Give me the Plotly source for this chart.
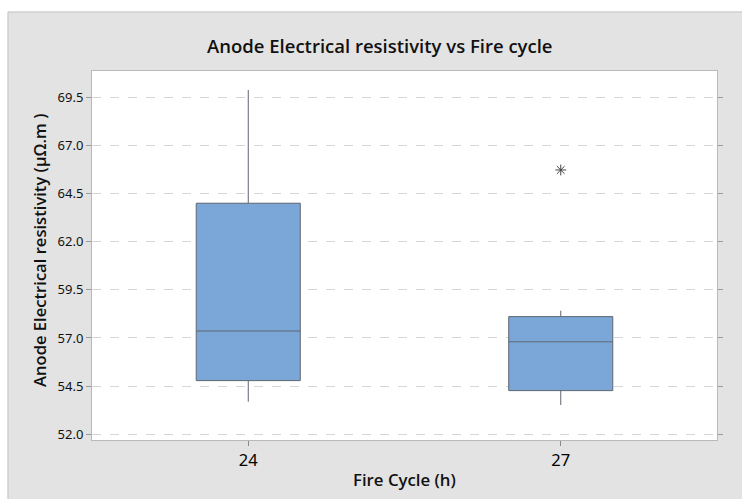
import plotly.graph_objects as go

categories = ["24", "27"]
q1 = [54.78, 54.26]
median = [57.36, 56.80]
q3 = [64.01, 58.11]
lower_whisker = [53.68, 53.51]
upper_whisker = [69.90, 58.42]
outlier_cat = ["27"]
outlier_val = [65.74]
y_ticks = [52.0, 54.5, 57.0, 59.5, 62.0, 64.5, 67.0, 69.5]

FONT = "Noto Sans"
TFONT = "Open Sans"
W, H = 742, 499
L, R, T, B = 92, 25, 71, 59
pw, ph = W - L - R, H - T - B

def px_x(p):
    return (p - L) / pw

def px_y(p):
    return (H - B - p) / ph

fig = go.Figure()
fig.add_trace(go.Box(
    x=categories, q1=q1, median=median, q3=q3,
    lowerfence=lower_whisker, upperfence=upper_whisker,
    fillcolor="#7BA7D8", line=dict(color="#5f6670", width=1),
    whiskerwidth=0, boxpoints=False, showlegend=False,
))
fig.add_trace(go.Scatter(
    x=outlier_cat, y=outlier_val, mode="markers",
    marker=dict(symbol="asterisk-open", size=9, color="#444444",
                line=dict(color="#444444", width=1)),
    showlegend=False,
))

fig.update_layout(
    width=W, height=H,
    margin=dict(l=L, r=R, t=T, b=B),
    paper_bgcolor="#e3e3e3", plot_bgcolor="white",
    boxgap=0.667, boxgroupgap=0,
    font=dict(family=FONT, color="#1a1a1a"),
    xaxis=dict(
        type="category", range=[-0.5, 1.5],
        showline=True, mirror=True, linecolor="#b9b9b9", linewidth=1,
        ticks="outside", ticklen=5, tickcolor="#8a8a8a",
        tickfont=dict(size=16.5, color="#000000", family=FONT),
        showgrid=False, zeroline=False,
    ),
    yaxis=dict(
        range=[51.69, 70.89],
        tickvals=y_ticks, ticktext=[f"{v:.1f}" for v in y_ticks],
        showline=True, mirror="ticks", linecolor="#b9b9b9", linewidth=1,
        ticks="outside", ticklen=5, tickcolor="#9a9a9a",
        tickfont=dict(size=13, color="#111111", family=FONT),
        showgrid=True, gridcolor="#d6d6d6", griddash="dash", gridwidth=1,
        zeroline=False,
    ),
    shapes=[
        dict(type="rect", xref="paper", yref="paper",
             x0=px_x(-5), x1=px_x(7.5), y0=px_y(H + 5), y1=px_y(-5),
             fillcolor="white", line=dict(width=0), layer="below"),
        dict(type="rect", xref="paper", yref="paper",
             x0=px_x(-5), x1=px_x(W + 5), y0=px_y(11.5), y1=px_y(-5),
             fillcolor="white", line=dict(width=0), layer="below"),
        dict(type="line", xref="paper", yref="paper",
             x0=px_x(8), x1=px_x(W + 5), y0=px_y(12), y1=px_y(12),
             line=dict(color="#c6c6c6", width=1), layer="below"),
        dict(type="line", xref="paper", yref="paper",
             x0=px_x(8), x1=px_x(8), y0=px_y(12), y1=px_y(H + 5),
             line=dict(color="#c6c6c6", width=1), layer="below"),
    ],
    annotations=[
        dict(text="Anode Electrical resistivity vs Fire cycle",
             xref="paper", yref="paper", x=px_x(380), y=px_y(46),
             xanchor="center", yanchor="middle", showarrow=False,
             font=dict(size=18.5, color="#111111", family=TFONT, weight=600)),
        dict(text="Fire Cycle (h)",
             xref="paper", yref="paper", x=px_x(404), y=px_y(479),
             xanchor="center", yanchor="middle", showarrow=False,
             font=dict(size=16.8, color="#111111", family=TFONT, weight=600)),
        dict(text="Anode Electrical resistivity (µΩ.m )",
             xref="paper", yref="paper", x=px_x(39), y=px_y(251),
             xanchor="center", yanchor="middle", showarrow=False, textangle=-90,
             font=dict(size=16.6, color="#111111", family=TFONT, weight=600)),
    ],
)

fig.write_html("out.html")
